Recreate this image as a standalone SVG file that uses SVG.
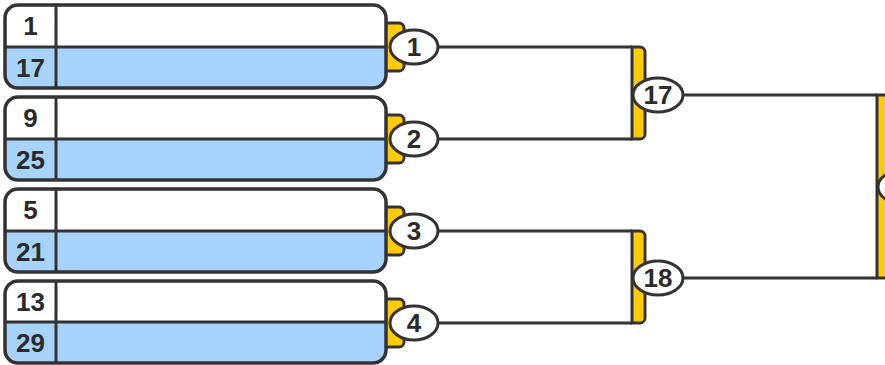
<svg xmlns="http://www.w3.org/2000/svg" width="885" height="365" viewBox="0 0 885 365">
<defs>
<style>
.ln{stroke:#333;stroke-width:3;fill:none}
.box{fill:none;stroke:#333;stroke-width:3.5}
.blue{fill:#a7d3fb}
.white{fill:#fff}
.tab{fill:#ffcb05;stroke:#333;stroke-width:3}
.ell{fill:#fff;stroke:#333;stroke-width:3}
.t{font-family:"Liberation Sans",Arial,sans-serif;font-weight:bold;font-size:26px;fill:#2b2b2b;text-anchor:middle}
</style>
</defs>
<rect width="885" height="365" fill="#fff"/>
<g id="connectors">
<path class="ln" d="M438,47 H632 M438,139 H632 M438,231 H632 M438,323 H632 M682,95 H877 M682,278 H877"/>
</g>
<g id="match1">
<path class="tab" d="M384,23 H399 A5 5 0 0 1 404,28 V66 A5 5 0 0 1 399,71 H384 Z"/>
<rect class="blue" x="5" y="5" width="381" height="83" rx="13"/>
<path class="white" d="M5,47 V18 A13 13 0 0 1 18,5 H373 A13 13 0 0 1 386,18 V47 Z"/>
<path class="ln" d="M5,47 H386 M56,5 V88"/>
<rect class="box" x="5" y="5" width="381" height="83" rx="13"/>
<text class="t" x="30.5" y="35">1</text>
<text class="t" x="30.5" y="77">17</text>
<ellipse class="ell" cx="414" cy="47" rx="24" ry="17"/>
<text class="t" x="414" y="56">1</text>
</g>
<g id="match2">
<path class="tab" d="M384,115 H399 A5 5 0 0 1 404,120 V158 A5 5 0 0 1 399,163 H384 Z"/>
<rect class="blue" x="5" y="97" width="381" height="83" rx="13"/>
<path class="white" d="M5,139 V110 A13 13 0 0 1 18,97 H373 A13 13 0 0 1 386,110 V139 Z"/>
<path class="ln" d="M5,139 H386 M56,97 V180"/>
<rect class="box" x="5" y="97" width="381" height="83" rx="13"/>
<text class="t" x="30.5" y="127">9</text>
<text class="t" x="30.5" y="169">25</text>
<ellipse class="ell" cx="414" cy="139" rx="24" ry="17"/>
<text class="t" x="414" y="148">2</text>
</g>
<g id="match3">
<path class="tab" d="M384,207 H399 A5 5 0 0 1 404,212 V250 A5 5 0 0 1 399,255 H384 Z"/>
<rect class="blue" x="5" y="189" width="381" height="83" rx="13"/>
<path class="white" d="M5,231 V202 A13 13 0 0 1 18,189 H373 A13 13 0 0 1 386,202 V231 Z"/>
<path class="ln" d="M5,231 H386 M56,189 V272"/>
<rect class="box" x="5" y="189" width="381" height="83" rx="13"/>
<text class="t" x="30.5" y="219">5</text>
<text class="t" x="30.5" y="261">21</text>
<ellipse class="ell" cx="414" cy="231" rx="24" ry="17"/>
<text class="t" x="414" y="240">3</text>
</g>
<g id="match4">
<path class="tab" d="M384,299 H399 A5 5 0 0 1 404,304 V342 A5 5 0 0 1 399,347 H384 Z"/>
<rect class="blue" x="5" y="281" width="381" height="82" rx="13"/>
<path class="white" d="M5,322 V294 A13 13 0 0 1 18,281 H373 A13 13 0 0 1 386,294 V322 Z"/>
<path class="ln" d="M5,322 H386 M56,281 V363"/>
<rect class="box" x="5" y="281" width="381" height="82" rx="13"/>
<text class="t" x="30.5" y="311">13</text>
<text class="t" x="30.5" y="352">29</text>
<ellipse class="ell" cx="414" cy="323" rx="24" ry="17"/>
<text class="t" x="414" y="332">4</text>
</g>
<g id="match17">
<path class="tab" d="M632,47 H640 A5 5 0 0 1 645,52 V134 A5 5 0 0 1 640,139 H632 Z"/>
<ellipse class="ell" cx="658" cy="95" rx="25" ry="17"/>
<text class="t" x="658" y="104">17</text>
</g>
<g id="match18">
<path class="tab" d="M632,231 H640 A5 5 0 0 1 645,236 V318 A5 5 0 0 1 640,323 H632 Z"/>
<ellipse class="ell" cx="658" cy="278" rx="25" ry="17"/>
<text class="t" x="658" y="287">18</text>
</g>
<g id="final">
<path class="tab" d="M877,95 H900 V278 H877 Z"/>
<ellipse class="ell" cx="903" cy="187" rx="25" ry="17"/>
</g>
</svg>
